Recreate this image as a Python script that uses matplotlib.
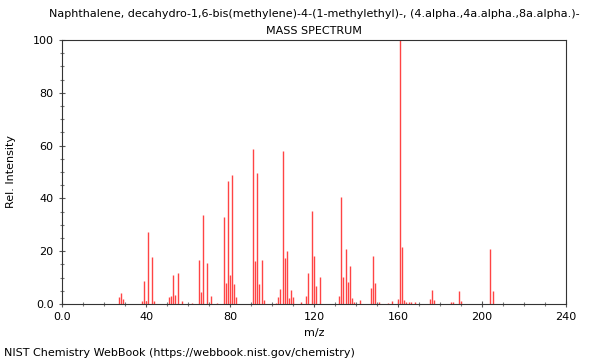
import matplotlib
matplotlib.use("Agg")
import matplotlib.pyplot as plt
from matplotlib.ticker import MultipleLocator, FixedFormatter, FixedLocator

# m/z and relative intensity
mz = [27, 28, 29, 38, 39, 40, 41, 43, 44,
      51, 52, 53, 54, 55, 57, 62, 65, 66, 67, 69, 71, 74,
      77, 78, 79, 80, 81, 82, 83, 91, 92, 93, 94, 95, 96,
      102, 103, 104, 105, 106, 107, 108, 109, 110, 114, 116, 117,
      119, 120, 121, 123, 132, 133, 134, 135, 136, 137, 138, 139,
      142, 147, 148, 149, 151, 155, 157, 160, 161, 162, 163, 164,
      165, 166, 168, 175, 176, 177, 185, 186, 189, 190, 204, 205]
intensity = [2.8, 4.2, 1.8, 1.0, 8.7, 1.0, 27.2, 17.7, 1.3,
             2.8, 3.0, 11.0, 3.4, 11.9, 1.0, 0.5, 16.7, 4.5, 33.7, 15.4, 3.2, 0.5,
             33.0, 8.0, 46.6, 11.0, 49.0, 7.6, 2.8, 58.7, 16.3, 49.8, 7.6, 16.7, 1.5,
             0.4, 2.8, 5.5, 58.0, 17.4, 20.0, 2.1, 5.3, 2.8, 0.8, 3.2, 11.9,
             35.2, 18.2, 6.7, 10.4, 3.2, 40.7, 10.2, 20.8, 8.3, 14.3, 2.1, 0.8,
             1.5, 6.0, 18.2, 8.0, 0.8, 0.4, 1.2, 2.0, 100.0, 21.5, 1.5, 0.7,
             0.7, 0.7, 0.7, 2.0, 5.4, 1.5, 0.6, 0.6, 4.8, 1.2, 21.0, 4.8]

x_ticks = [0, 40, 80, 120, 160, 200, 240]
x_labels = ["0.0", "40", "80", "120", "160", "200", "240"]
y_ticks = [0, 20, 40, 60, 80, 100]
y_labels = ["0.0", "20", "40", "60", "80", "100"]

title = ("Naphthalene, decahydro-1,6-bis(methylene)-4-(1-methylethyl)-, "
         "(4.alpha.,4a.alpha.,8a.alpha.)-\nMASS SPECTRUM")

plt.rcParams["font.family"] = "DejaVu Sans"
fig = plt.figure(figsize=(6, 3.6), dpi=100)
ax = fig.add_axes([62 / 600, 56 / 360, 504 / 600, 264 / 360])

ax.vlines(mz, 0, intensity, colors="#ff4444", linewidth=1.0)

ax.set_xlim(0, 240)
ax.set_ylim(0, 100)
ax.xaxis.set_major_locator(FixedLocator(x_ticks))
ax.xaxis.set_major_formatter(FixedFormatter(x_labels))
ax.xaxis.set_minor_locator(MultipleLocator(10))
ax.yaxis.set_major_locator(FixedLocator(y_ticks))
ax.yaxis.set_major_formatter(FixedFormatter(y_labels))
ax.yaxis.set_minor_locator(MultipleLocator(5))

ax.tick_params(which="major", direction="inout", length=5, width=0.8,
               color="#555555", labelsize=8)
ax.tick_params(which="minor", direction="inout", length=3, width=0.8,
               color="#777777")
for s in ax.spines.values():
    s.set_color("#333333")
    s.set_linewidth(0.8)

ax.set_xlabel("m/z", fontsize=8, labelpad=4)
ax.set_ylabel("Rel. Intensity", fontsize=8, labelpad=12)
ax.set_title(title, fontsize=8, linespacing=1.9, pad=4)
fig.text(4 / 600, 1 - 353 / 360, "NIST Chemistry WebBook (https://webbook.nist.gov/chemistry)",
         fontsize=8, va="center", ha="left")

fig.savefig("out.png", dpi=100)
